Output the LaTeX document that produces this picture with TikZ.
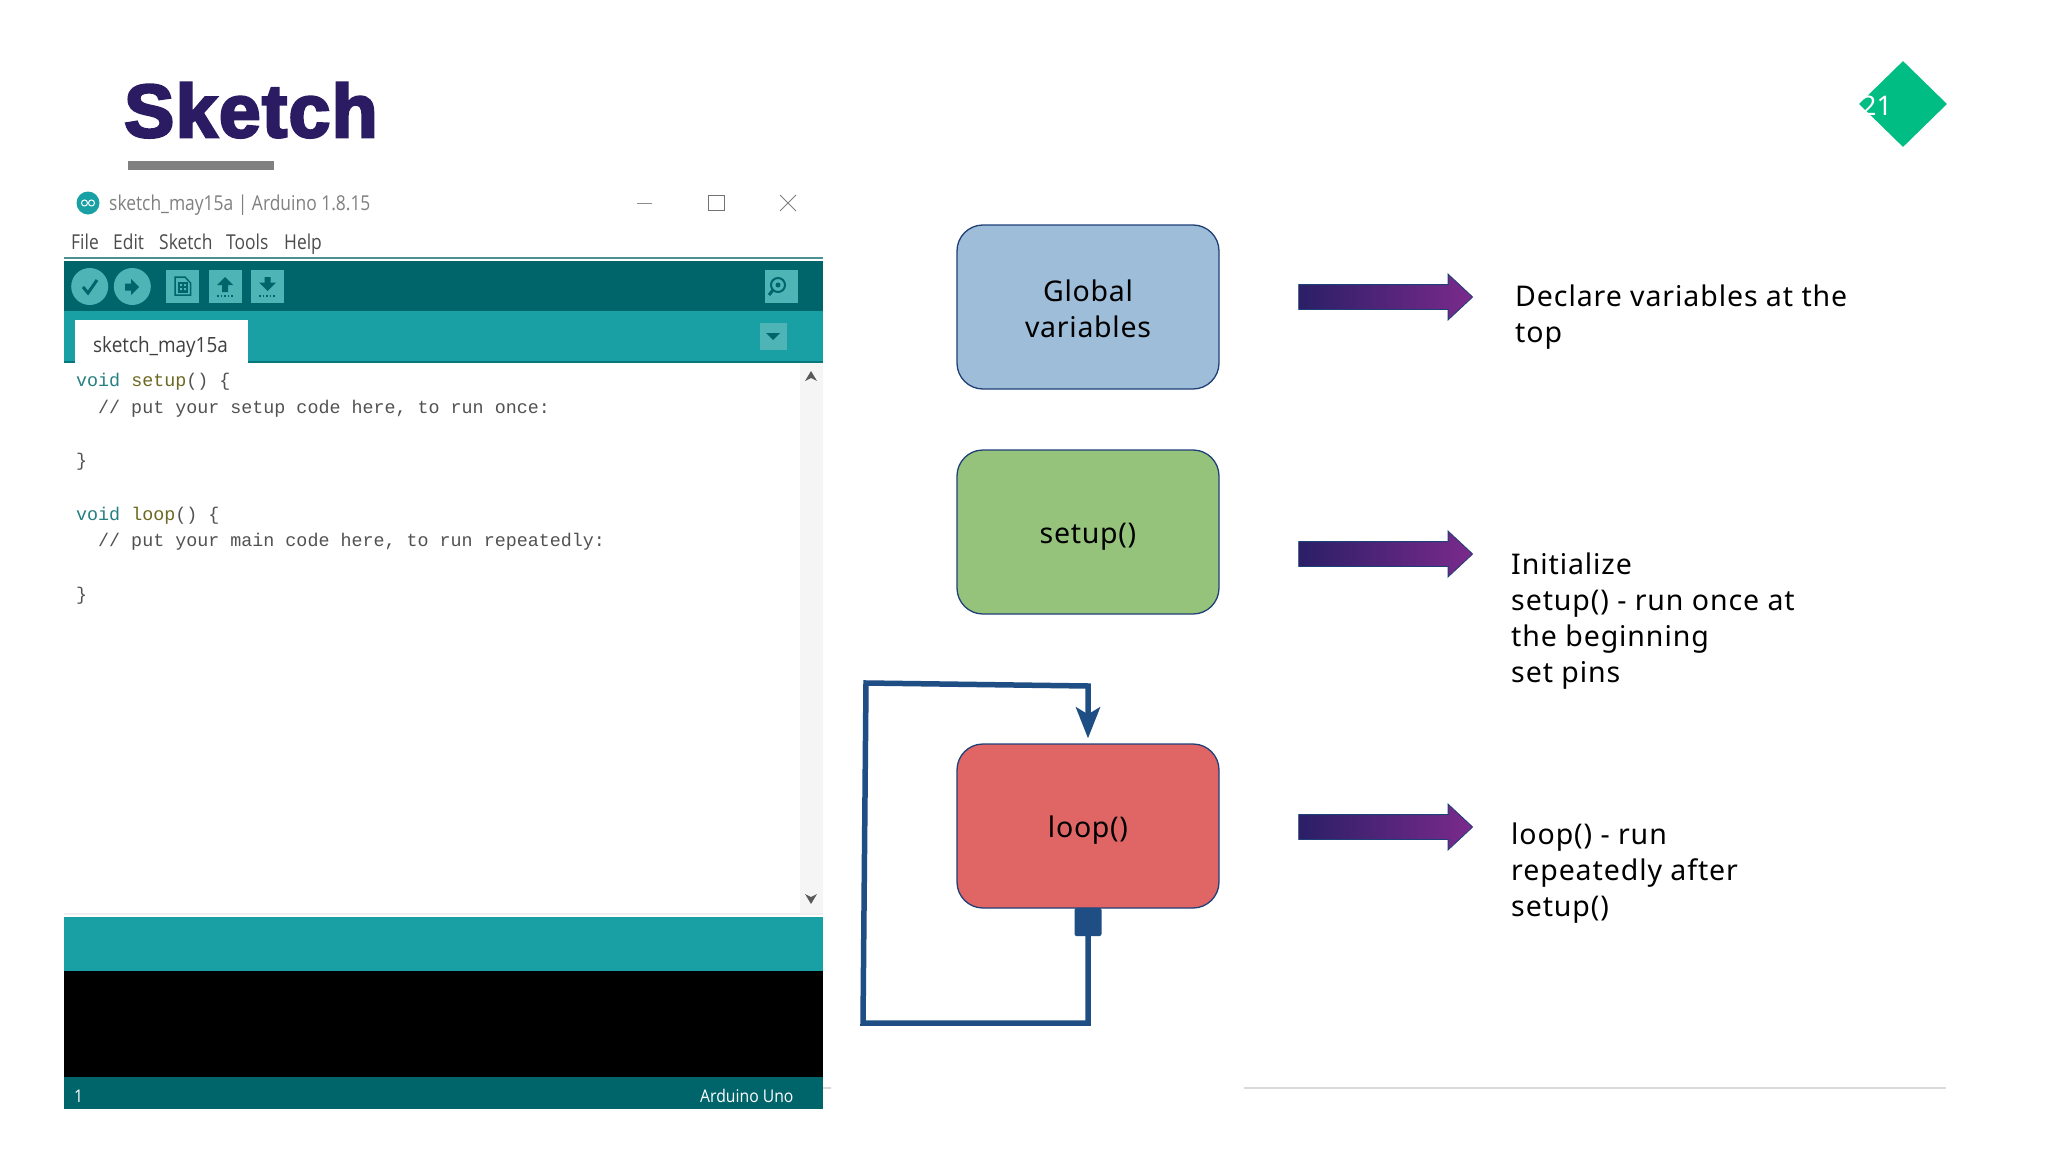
\documentclass[tikz,border=0pt]{standalone}
\usepackage{fontspec}
\usepackage{xcolor}
\usetikzlibrary{arrows.meta,shapes.arrows,shapes.geometric}
\setmainfont{Noto Sans}
\setmonofont{Liberation Mono}
\newfontfamily\titlefont[FakeBold=3.5,LetterSpace=2]{Liberation Sans Bold}
\newfontfamily\uifont[FakeStretch=0.85]{Open Sans}
\newfontfamily\tabfont[FakeStretch=0.9]{Open Sans}
\newfontfamily\boxfont[LetterSpace=2.5]{Noto Sans}
\newfontfamily\notefont[LetterSpace=3.2]{Noto Sans}
\definecolor{inkblue}{HTML}{2A1B62}
\definecolor{darkteal}{HTML}{00656A}
\definecolor{midteal}{HTML}{18A0A5}
\definecolor{softteal}{HTML}{4FB4B6}
\definecolor{loopblue}{HTML}{1F4E85}
\definecolor{edgeblue}{HTML}{1F3F77}
\definecolor{arrowleft}{HTML}{2A1F66}
\definecolor{arrowmid}{HTML}{3C2172}
\definecolor{arrowright}{HTML}{7B2A8C}
\definecolor{globalfill}{HTML}{9DBDD9}
\definecolor{setupfill}{HTML}{95C37B}
\definecolor{loopfill}{HTML}{E06666}
\definecolor{badgegreen}{HTML}{00BD84}
\tikzset{
  blockbox/.style={draw=edgeblue,line width=1.3,rounded corners=26,minimum width=262,minimum height=164,inner sep=0,align=center,font=\boxfont\fontsize{28.5}{36}\selectfont},
  notetext/.style={anchor=north west,inner sep=0,align=left,font=\notefont\fontsize{28.5}{36}\selectfont},
  pointer/.style={single arrow,single arrow head extend=10.5,single arrow tip angle=86,single arrow head indent=0,inner sep=12,minimum height=174,draw=edgeblue,line width=0.8,left color=arrowleft,middle color=arrowmid,right color=arrowright},
  codeline/.style={anchor=base west,inner sep=0,text=black!68,font=\ttfamily\fontsize{18.36}{20}\selectfont},
  uitext/.style={anchor=base west,inner sep=0,font=\uifont\fontsize{20.5}{24}\selectfont},
  loopline/.style={draw=loopblue,line width=5.5},
  toolsquare/.style={fill=softteal,minimum width=33,minimum height=33,inner sep=0},
  toolicon/.style={fill=darkteal}
}
\begin{document}
\begin{tikzpicture}[x=1pt,y=-1pt]
  \useasboundingbox (0,0) rectangle (2048,1153);
  \fill[white] (0,0) rectangle (2048,1153); % Page
  % Title
  \node[anchor=base west,inner sep=0,text=inkblue,font=\titlefont\fontsize{75}{80}\selectfont] (title) at (124,137) {Sketch};
  \fill[gray] (128,161) rectangle (274,170); % Title bar
  % Page number
  \node[diamond,fill=badgegreen,minimum width=88,minimum height=86,inner sep=0] (badge) at (1903,104) {};
  \node[anchor=base west,inner sep=0,text=white,font=\fontsize{27}{30}\selectfont] (pageno) at (1861,116) {21};
  % Window head
  \fill[midteal] (88,203) circle (11.5); % Logo
  \draw[white,line width=1] (84.5,203) circle (3) (91.5,203) circle (3);
  \node[uitext,text=black!50] (wintitle) at (109,210) {sketch\_may15a | Arduino 1.8.15};
  \draw[black!45,line width=1] (637,203) -- (652,203); % Minimize
  \draw[black!55,line width=1] (708,195) rectangle (724,210); % Maximize
  \draw[black!50,line width=1] (780,195) -- (796,211); % Close
  \draw[black!50,line width=1] (796,195) -- (780,211);
  \node[uitext,text=black!70] (menufile) at (71,249) {File};
  \node[uitext,text=black!70] (menuedit) at (113,249) {Edit};
  \node[uitext,text=black!70] (menusketch) at (159,249) {Sketch};
  \node[uitext,text=black!70] (menutools) at (226,249) {Tools};
  \node[uitext,text=black!70] (menuhelp) at (284,249) {Help};
  \fill[midteal!50!gray] (64,257) rectangle (823,259); % Menu line
  % Toolbar
  \fill[darkteal] (64,261) rectangle (823,311);
  \fill[softteal] (89.7,286.5) circle (18.5); % Verify
  \fill[softteal] (132.3,286.5) circle (18.5); % Upload
  \node[toolsquare] (newbtn) at (182.5,286.5) {};
  \node[toolsquare] (openbtn) at (225,286.5) {};
  \node[toolsquare] (savebtn) at (267.5,286.5) {};
  \node[toolsquare] (monitorbtn) at (781.5,286.5) {};
  \draw[darkteal,line width=3] (83,287) -- (88,293) -- (97,280); % Check mark
  \fill[toolicon] (125,283.5) -- (131,283.5) -- (131,279) -- (139,287) -- (131,295) -- (131,290.5) -- (125,290.5) -- cycle; % Right arrow
  \draw[darkteal,line width=1.5] (175,277) -- (185,277) -- (190.5,283) -- (190.5,295) -- (175,295) -- cycle; % New file
  \fill[toolicon] (178,282) rectangle (188,293);
  \fill[softteal] (180,284) rectangle (182,286) (184,284) rectangle (186,286) (180,288) rectangle (182,290) (184,288) rectangle (186,290);
  \fill[toolicon] (225,277) -- (233,285) -- (228,285) -- (228,292) -- (222,292) -- (222,285) -- (217,285) -- cycle; % Open
  \fill[toolicon] (267.5,291) -- (259,282.5) -- (264.5,282.5) -- (264.5,277) -- (270.5,277) -- (270.5,282.5) -- (276,282.5) -- cycle; % Save
  \draw[darkteal,line width=1.5,dotted] (217,296) -- (233,296);
  \draw[darkteal,line width=1.5,dotted] (259,296) -- (276,296);
  \draw[darkteal,line width=2] (778,285) circle (7); % Serial monitor
  \fill[darkteal] (778,285) circle (2.5);
  \draw[darkteal,line width=3] (773,290) -- (769,295);
  % Tabs
  \fill[midteal] (64,311) rectangle (823,362);
  \fill[darkteal!70!midteal] (64,361) rectangle (823,363);
  \fill[white] (75,320) rectangle (248,363); % Tab
  \node[uitext,text=black!75,font=\tabfont\fontsize{21}{24}\selectfont] (tabname) at (93,352) {sketch\_may15a};
  \fill[softteal] (760,323) rectangle (786.5,350); % Tab menu
  \fill[darkteal] (766,333) -- (780,333) -- (773,340) -- cycle;
  % Editor
  \fill[black!4] (800,363) rectangle (823,913); % Scroll bar
  \fill[black!65] (811,371) -- (817,381) -- (811,378) -- (805,381) -- cycle;
  \fill[black!65] (811,904) -- (817,894) -- (811,897) -- (805,894) -- cycle;
  \node[codeline] (codeA) at (76,386) {\textcolor{teal!70!gray}{void} \textcolor{olive!70!black}{setup}() \{};
  \node[codeline] (codeB) at (98,413) {// put your setup code here, to run once:};
  \node[codeline] (codeC) at (76,466) {\}};
  \node[codeline] (codeD) at (76,520) {\textcolor{teal!70!gray}{void} \textcolor{olive!70!black}{loop}() \{};
  \node[codeline] (codeE) at (98,546) {// put your main code here, to run repeatedly:};
  \node[codeline] (codeF) at (76,600) {\}};
  % Console
  \fill[black!6] (64,913) rectangle (823,915);
  \fill[midteal] (64,917) rectangle (823,971);
  \fill[black] (64,971) rectangle (823,1077);
  \fill[darkteal] (64,1077) rectangle (823,1109);
  \node[uitext,text=white,font=\tabfont\fontsize{17.5}{20}\selectfont] (lineno) at (74,1102) {1};
  \node[uitext,text=white,font=\tabfont\fontsize{17.5}{20}\selectfont] (board) at (700,1102) {Arduino Uno};
  % Footer lines
  \draw[black!15,line width=1.3] (823,1088) -- (831,1088);
  \draw[black!15,line width=1.3] (1244,1088) -- (1946,1088);
  % Blocks
  \node[blockbox,fill=globalfill] (global) at (1088,307) {\rule{0pt}{24.5pt}Global\\variables};
  \node[blockbox,fill=setupfill] (setup) at (1088,532) {\raisebox{-11pt}[0pt][0pt]{setup()}};
  \node[blockbox,fill=loopfill] (loop) at (1088,826) {\raisebox{-11pt}[0pt][0pt]{loop()}};
  % Loop connector
  \node[fill=loopblue,rounded corners=2,minimum width=27,minimum height=28,inner sep=0] (looptab) at (1088,922) {};
  \coordinate (cornerA) at (1088,1023);
  \coordinate (cornerB) at (863,1023);
  \coordinate (cornerC) at (866,683);
  \coordinate (cornerD) at (1088,686);
  \draw[loopline,-{Stealth[length=31,width=24,inset=7]},shorten >=5] (looptab.south) -- (cornerA) -- (cornerB) -- (cornerC) -- (cornerD) -- (loop.north);
  % Pointers
  \node[pointer] (pointerA) at (1379,297) {};
  \node[pointer] (pointerB) at (1379,554) {};
  \node[pointer] (pointerC) at (1379,827) {};
  % Notes
  \node[notetext] (noteA) at (1515,285) {Declare variables at the\\top};
  \node[notetext] (noteB) at (1511,553) {Initialize\\setup() - run once at\\the beginning\\set pins};
  \node[notetext] (noteC) at (1511,823) {loop() - run\\repeatedly after\\setup()};
\end{tikzpicture}
\end{document}
